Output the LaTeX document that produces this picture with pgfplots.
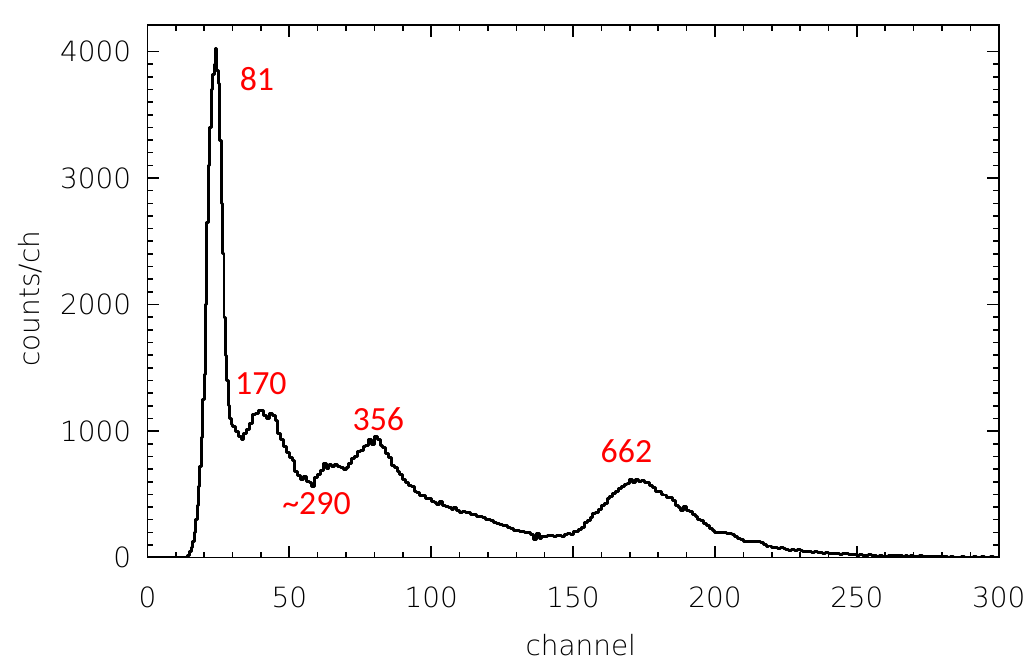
\documentclass[border=0pt]{standalone}
\usepackage{pgfplots}
\pgfplotsset{compat=1.18}
\usepackage{fontspec}
\setmainfont{DejaVu Sans}
\newfontfamily\tickfont{DejaVu Sans ExtraLight}
\newfontfamily\annfont{Carlito}
\definecolor{annred}{RGB}{255,0,0}
\begin{document}
\begin{tikzpicture}
\begin{axis}[
  at={(0,0)}, anchor=south west,
  scale only axis, width=427.5pt, height=267.5pt,
  xmin=0, xmax=300, ymin=0, ymax=4210,
  xtick={0,50,...,300}, minor x tick num=4,
  ytick={0,1000,...,4000}, minor y tick num=9,
  tick align=inside,
  major tick length=6pt, minor tick length=3pt,
  axis line style={line width=0.8pt},
  every tick/.style={black, line width=0.8pt},
  /pgf/number format/assume math mode=true,
  /pgf/number format/set thousands separator={},
  tick label style={font=\tickfont\fontsize{14}{16}\selectfont},
  xticklabel style={anchor=center, yshift=-20pt},
  yticklabel style={anchor=east, inner sep=0pt, xshift=-8pt},
  xlabel={channel}, ylabel={counts/ch},
  label style={font=\tickfont\fontsize{14}{16}\selectfont},
  xlabel style={at={(axis description cs:0.509,-0.1645)}, anchor=center},
  ylabel style={at={(axis description cs:-0.138,0.486)}, anchor=center},
]
\addplot[const plot, black, line width=1.5pt, line join=round] coordinates {
(0,0)(1,0)(2,0)(3,0)(4,0)(5,0)(6,0)(7,0)(8,0)(9,0)(10,0)(11,0)(12,0)(13,5)(14,15)
(15,50)(15.5,80)(16,130)(16.5,200)(17,300)(17.5,410)(18,560)(18.5,720)(19,950)(19.5,1250)
(20,1450)(20.5,2000)(21,2650)(21.5,3100)(22,3400)(22.5,3700)(23,3820)(23.5,3900)(24,4020)
(24.5,3850)(25,3750)(25.5,3300)(26,2800)(26.5,2400)(27,1900)(27.5,1600)(28,1400)(28.5,1200)
(29,1100)(29.5,1050)(30,1040)
(31,1000)(32,960)(33,930)(34,980)(35,1010)(36,1060)(37,1130)(38,1140)(39,1160)(40,1165)
(41,1120)(42,1100)(43,1140)(44,1120)(45,1080)(46,980)(47,930)(48,880)(49,830)(50,790)
(51,770)(52,680)(53,650)(54,620)(55,640)(56,600)(57,595)(58,565)(59,630)(60,660)
(61,690)(62,745)(63,705)(64,735)(65,720)(66,735)(67,720)(68,715)(69,700)(70,710)
(71,740)(72,785)(73,800)(74,835)(75,850)(76,880)(77,885)(78,930)(79,895)(80,955)
(81,930)(82,885)(83,870)(84,820)(85,790)(86,730)(87,715)(88,680)(89,655)(90,615)
(91,595)(92,570)(93,565)(94,525)(95,515)(96,490)(97,490)(98,470)(99,465)(100,440)
(101,435)(102,420)(103,440)(104,410)(105,405)(106,400)(107,380)(108,395)(109,375)(110,360)
(111,365)(112,360)(113,355)(114,340)(115,340)(116,325)(117,322)(118,315)(119,300)(120,298)
(121,290)(122,280)(123,272)(124,265)(125,255)(126,252)(127,240)(128,232)(129,215)(130,212)
(131,205)(132,205)(133,200)(134,195)(135,180)(136,140)(137,190)(138,150)(139,165)(140,170)
(141,172)(142,175)(143,170)(144,178)(145,172)(146,170)(147,185)(148,190)(149,180)(150,205)
(151,210)(152,225)(153,240)(154,275)(155,290)(156,320)(157,345)(158,360)(159,380)(160,415)
(161,430)(162,465)(163,480)(164,505)(165,525)(166,550)(167,560)(168,580)(169,585)(170,615)
(171,595)(172,620)(173,600)(174,610)(175,590)(176,590)(177,570)(178,555)(179,525)(180,525)
(181,500)(182,495)(183,475)(184,475)(185,450)(186,415)(187,395)(188,375)(189,405)(190,370)
(191,365)(192,340)(193,325)(194,300)(195,290)(196,270)(197,255)(198,230)(199,215)(200,200)
(201,195)(202,200)(203,195)(204,192)(205,188)(206,180)(207,165)(208,150)(209,140)(210,130)
(211,125)(212,128)(213,125)(214,125)(215,125)(216,120)(217,100)(218,85)(219,92)(220,80)
(221,82)(222,75)(223,82)(224,70)(225,66)(226,60)(227,62)(228,55)(229,62)(230,55)
(231,45)(232,50)(233,45)(234,40)(235,47)(236,40)(237,42)(238,35)(239,42)(240,35)
(241,36)(242,30)(243,32)(244,28)(245,30)(246,36)(247,28)(248,25)(249,27)(250,20)
(251,22)(252,20)(253,18)(254,21)(255,15)(256,18)(257,12)(258,16)(259,12)(260,10)
(261,15)(262,15)(263,15)(264,15)(265,15)(266,10)(267,14)(268,10)(269,13)(270,10)
(271,8)(272,13)(273,8)(274,11)(275,8)(276,11)(277,8)(278,11)(279,6)(280,9)
(281,6)(282,5)(283,9)(284,5)(285,5)(286,4)(287,7)(288,4)(289,5)(290,3)
(291,6)(292,4)(293,3)(294,7)(295,3)(296,4)(297,6)(298,3)(299,4)(300,3)
};
\node[annred, font=\annfont\fontsize{17}{19}\selectfont] at (axis cs:38.6,3780) {81};
\node[annred, font=\annfont\fontsize{17}{19}\selectfont] at (axis cs:40,1373) {170};
\node[annred, font=\annfont\fontsize{17}{19}\selectfont] at (axis cs:81.4,1097) {356};
\node[annred, font=\annfont\fontsize{17}{19}\selectfont] at (axis cs:59.6,426) {\char"007E 290};
\node[annred, font=\annfont\fontsize{17}{19}\selectfont] at (axis cs:168.8,844) {662};
\end{axis}
\path[use as bounding box] (-74pt,-52pt) rectangle (442pt,280pt);
\end{tikzpicture}
\end{document}
